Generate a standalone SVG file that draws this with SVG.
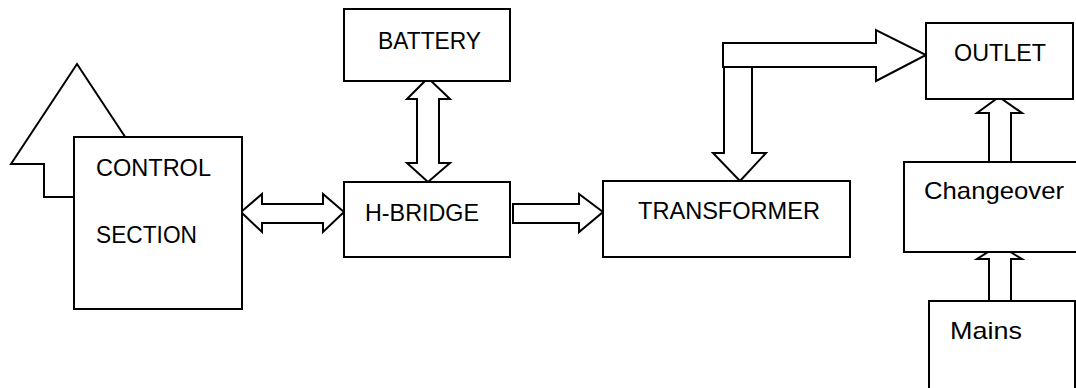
<svg xmlns="http://www.w3.org/2000/svg" width="1076" height="388" viewBox="0 0 1076 388">
<style>
.box{fill:#fff;stroke:#000;stroke-width:2}
.arr{fill:#fff;stroke:#000;stroke-width:2;stroke-linejoin:miter}
.lbl{font-family:"Liberation Sans",Arial,sans-serif;font-size:24px;fill:#000}
</style>
<rect width="1076" height="388" fill="#fff"/>
<g id="connectors">
<polygon class="arr" points="77,64 143,164 110,164 110,197 44,197 44,164 11,164"/>
<polygon class="arr" points="241,212 262,194 262,204 323,204 323,194 344,212 323,232 323,223 262,223 262,232"/>
<polygon class="arr" points="428,78 450,99 439,99 439,163 450,163 428,182 407,163 417,163 417,99 407,99"/>
<polygon class="arr" points="513,204 579,204 579,194 603,212 579,232 579,223 513,223"/>
<polygon class="arr" points="723,43 876,43 876,30 926,55 876,81 876,67 723,67"/>
<polygon class="arr" points="724,67 752,67 752,153 766,153 740,181 713,153 724,153"/>
<polygon class="arr" points="989,162 989,113 977,113 999,97 1022,113 1011,113 1011,162"/>
<polygon class="arr" points="989,301 989,259 977,259 999,245 1022,259 1011,259 1011,301"/>
</g>
<g id="control">
<rect class="box" x="74" y="137" width="168" height="172"/>
<text class="lbl" x="96" y="176" textLength="115" lengthAdjust="spacingAndGlyphs">CONTROL</text>
<text class="lbl" x="96" y="243" textLength="101" lengthAdjust="spacingAndGlyphs">SECTION</text>
</g>
<g id="battery">
<rect class="box" x="344" y="9" width="166" height="72"/>
<text class="lbl" x="378" y="49" textLength="103" lengthAdjust="spacingAndGlyphs">BATTERY</text>
</g>
<g id="hbridge">
<rect class="box" x="344" y="182" width="166" height="75"/>
<text class="lbl" x="365" y="221" textLength="114" lengthAdjust="spacingAndGlyphs">H-BRIDGE</text>
</g>
<g id="transformer">
<rect class="box" x="603" y="181" width="247" height="76"/>
<text class="lbl" x="638" y="219" textLength="182" lengthAdjust="spacingAndGlyphs">TRANSFORMER</text>
</g>
<g id="outlet">
<rect class="box" x="926" y="23" width="147" height="76"/>
<text class="lbl" x="954" y="61" textLength="92" lengthAdjust="spacingAndGlyphs">OUTLET</text>
</g>
<g id="changeover">
<rect class="box" x="904" y="162" width="190" height="90"/>
<text class="lbl" x="924" y="199" textLength="140" lengthAdjust="spacingAndGlyphs">Changeover</text>
</g>
<g id="mains">
<rect class="box" x="929" y="301" width="146" height="110"/>
<text class="lbl" x="950" y="339" textLength="72" lengthAdjust="spacingAndGlyphs">Mains</text>
</g>
</svg>
